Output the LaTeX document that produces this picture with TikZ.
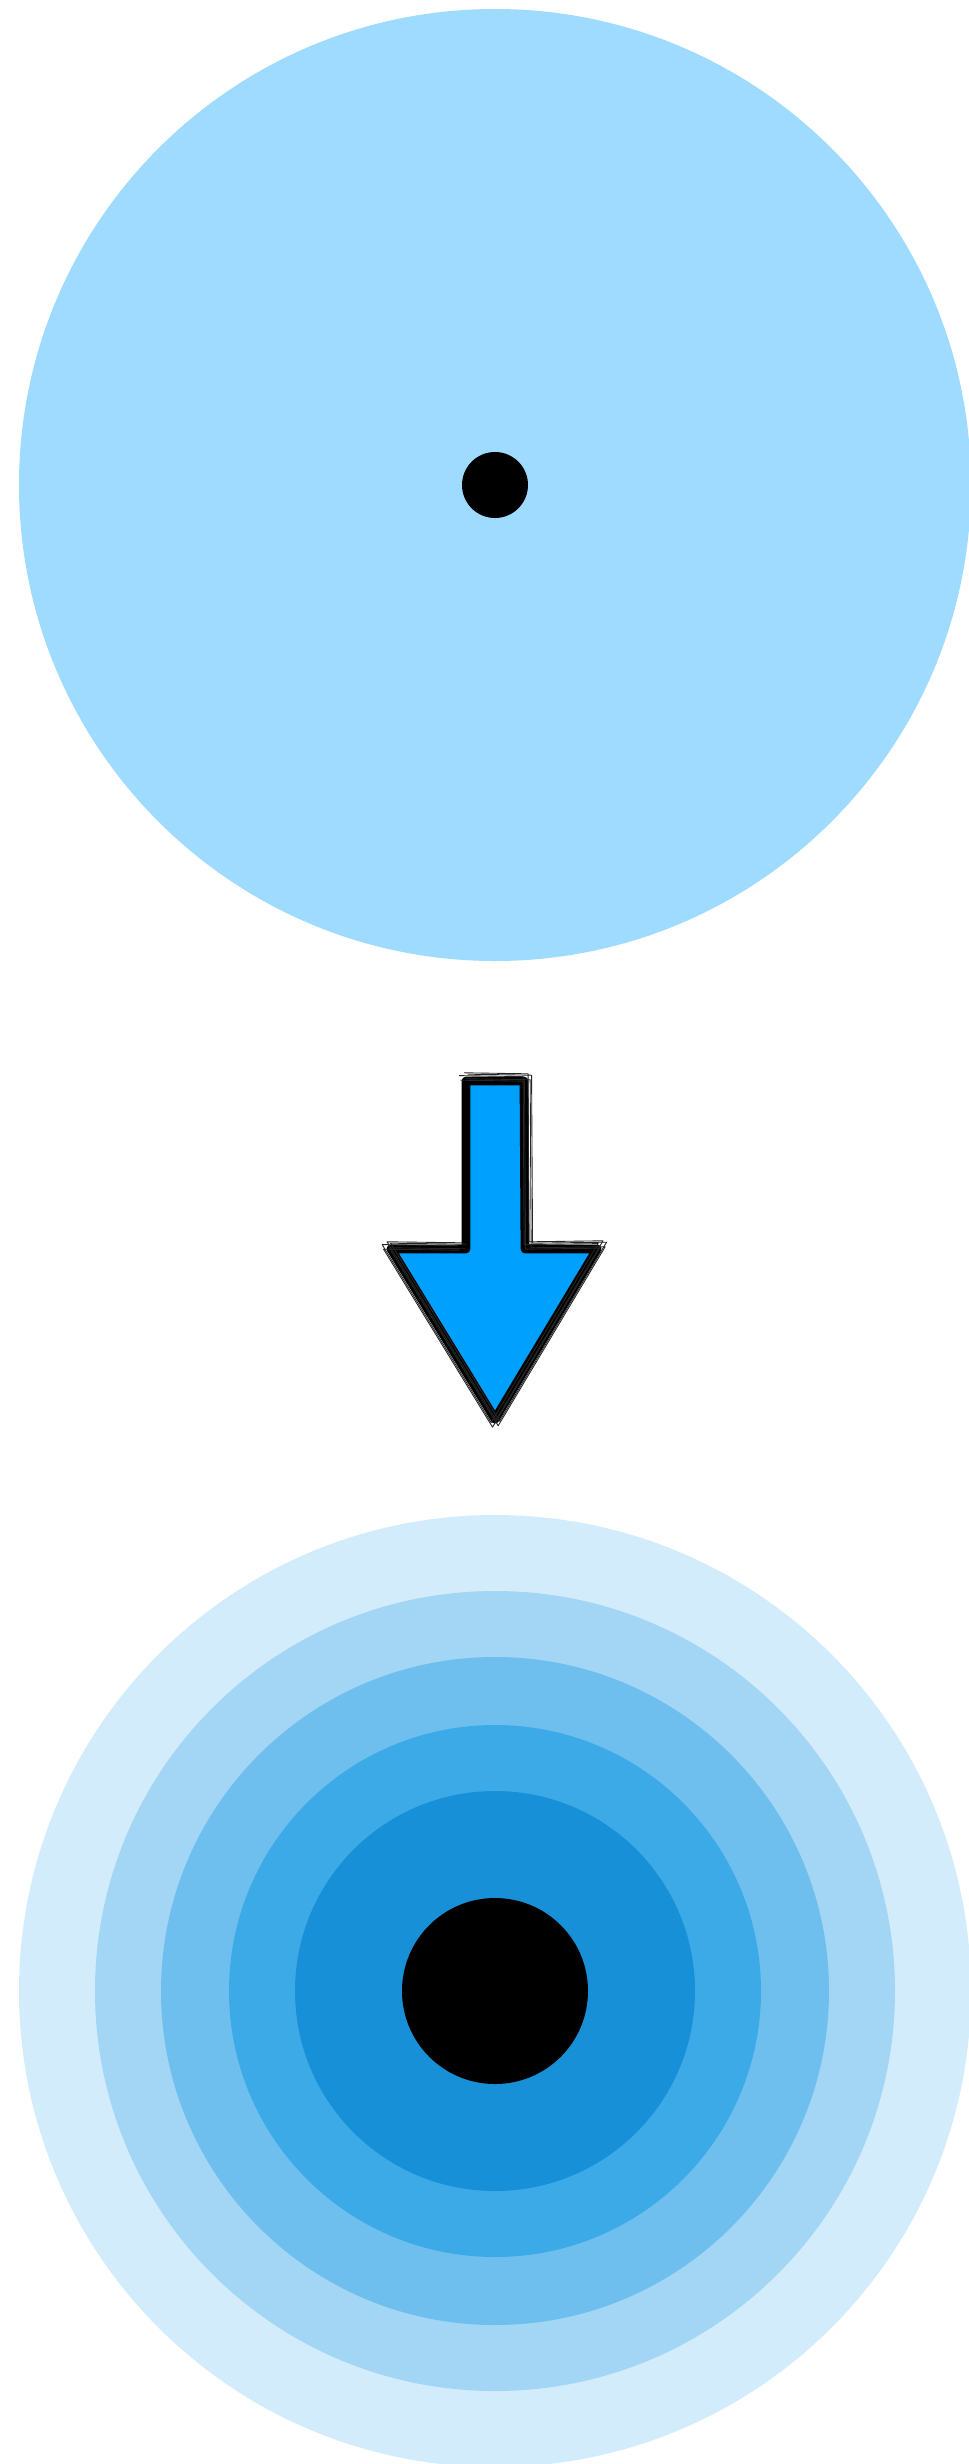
\documentclass[tikz,border=0pt]{standalone}
\definecolor{Wavetop}{HTML}{9EDBFF}
\definecolor{Waveone}{HTML}{D2ECFC}
\definecolor{Wavetwo}{HTML}{A3D5F5}
\definecolor{Wavethree}{HTML}{6FBFEE}
\definecolor{Wavefour}{HTML}{3DAAE8}
\definecolor{Wavefive}{HTML}{1790D7}
\definecolor{Arrowblue}{HTML}{00A0FF}

\begin{document}
\begin{tikzpicture}[x=0.02cm,y=-0.02cm]
	\useasboundingbox (0,0) rectangle (969,2464);
	\clip (0,0) rectangle (969,2464);
	% plain drop
	\fill[Wavetop] (495,485) circle (476);
	\fill[black] (495,485) circle (33);
	% sketchy arrow
	\filldraw[fill=Arrowblue,draw=black,line width=5pt,line join=round]
	(466,1081)--(524,1081)--(525,1249)--(597,1249)--(495,1419)--(391,1249)--(466,1249)--cycle;
	\foreach \d/\e in {-2.2/0.8,1.8/-1,2.6/1.6,-1.4/-1.8,0.6/2.4}{
			\draw[black!85,line width=0.5pt,line join=round,xshift=\d,yshift=\e]
			(463,1077)--(527,1078)--(528,1246)--(602,1245)--(495,1424)--(386,1246)--(462,1247);}
	% spreading rings
	\foreach \r/\c in {476/Waveone,400/Wavetwo,334/Wavethree,266/Wavefour,200/Wavefive}{
			\fill[\c] (495,1991) circle (\r);}
	\fill[black] (495,1991) circle (93);
\end{tikzpicture}
\end{document}
